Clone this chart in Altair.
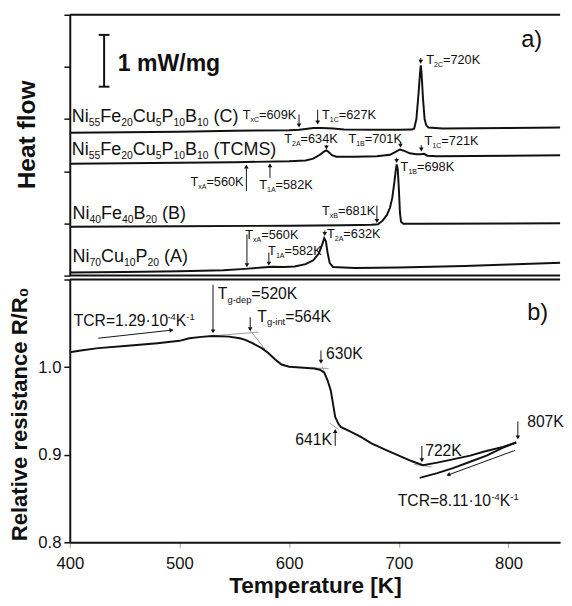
import math
import altair as alt
import pandas as pd

# ---------------- panel a) DSC heat-flow curves (mW/mg, stacked offsets) ----------------
T_C = [400, 450, 500, 550, 600, 609, 615, 622, 630, 640, 650, 680, 700, 712, 714, 716, 718, 719.2, 720,
       720.8, 722, 723.5, 725, 727, 740, 800, 850]
HF_C = [2.739, 2.748, 2.757, 2.776, 2.785, 2.794, 2.81, 2.83, 2.83, 2.82, 2.80, 2.794, 2.794, 2.80, 2.82,
        3.0, 3.5, 3.85, 4.03, 3.85, 3.4, 3.0, 2.88, 2.84, 2.82, 2.83, 2.84]

T_TCMS = [400, 450, 500, 550, 600, 615, 622, 628, 632, 634, 636, 639, 643, 660, 680, 692, 697, 701, 705,
          710, 716, 720, 723, 726, 735, 800, 850]
HF_TCMS = [2.145, 2.154, 2.164, 2.173, 2.193, 2.206, 2.243, 2.316, 2.38, 2.40, 2.37, 2.307, 2.28, 2.28,
           2.289, 2.316, 2.37, 2.417, 2.39, 2.344, 2.325, 2.325, 2.335, 2.298, 2.289, 2.298, 2.307]

T_B = [400, 500, 600, 650, 675, 681, 685, 689, 692, 694, 696, 697, 698, 699, 700, 701, 702, 704, 720, 850]
HF_B = [0.9375, 0.947, 0.956, 0.965, 0.974, 0.983, 1.048, 1.158, 1.305, 1.489, 1.80, 1.985, 2.132, 2.04,
        1.67, 1.21, 1.03, 0.993, 0.993, 1.002]

T_A = [400, 450, 500, 540, 560, 575, 585, 595, 605, 615, 622, 627, 630, 632, 633.5, 635, 637, 640, 660,
       700, 730, 760, 800, 850]
HF_A = [0.061, 0.068, 0.083, 0.101, 0.129, 0.156, 0.171, 0.165, 0.175, 0.22, 0.294, 0.423, 0.588, 0.717,
        0.662, 0.441, 0.239, 0.165, 0.147, 0.156, 0.17, 0.184, 0.211, 0.248]

# ---------------- panel b) relative resistance ----------------
T_HEAT = [400, 410, 426, 450, 480, 500, 509, 520, 530, 545, 555, 560, 567, 575, 581, 587, 593, 600, 610,
          623, 628, 632, 635, 638, 640, 642, 645, 647, 655, 665, 675, 688, 700, 712, 722, 735, 748, 765,
          778, 795, 807]
R_HEAT = [1.0169, 1.019, 1.0217, 1.024, 1.0273, 1.030, 1.0329, 1.0345, 1.0356, 1.0348, 1.033, 1.0311,
          1.027, 1.0217, 1.0161, 1.009, 1.003, 1.0005, 0.9995, 0.9985, 0.997, 0.9936, 0.985, 0.973, 0.958,
          0.943, 0.935, 0.9318, 0.927, 0.9206, 0.913, 0.9056, 0.899, 0.8925, 0.888, 0.891, 0.8944, 0.899,
          0.9037, 0.909, 0.914]
T_COOL = [807, 795, 780, 765, 750, 735, 719]
R_COOL = [0.914, 0.908, 0.899, 0.892, 0.885, 0.879, 0.8736]

X_TICKS = [400, 500, 600, 700, 800]
R_TICKS = [0.8, 0.9, 1.0, 1.1]
HF_TICKS = [0, 1, 2, 3, 4, 5]

# ---------------- layout / style ----------------
X_MIN, X_MAX = 400, 847
W, H1, H2 = 500, 266, 268
PXK = W / (X_MAX - X_MIN)
PXV1 = H1 / 5.0
PXV2 = H2 / 0.3
FONT = "Liberation Sans"
INK = "#111111"

CW = {' ': .278, '=': .584, 'K': .667, 'T': .611, 'x': .5, 'A': .667, 'B': .667, 'C': .722, 'N': .722,
      'i': .222, 'F': .611, 'e': .556, 'u': .556, 'P': .667, '(': .333, ')': .333, 'M': .833, 'S': .667,
      'g': .556, '-': .333, 'd': .556, 'p': .556, 'n': .556, 't': .278, '.': .278, '·': .278, 'R': .722,
      'c': .5, 'r': .333, 'm': .833, 'W': .944, '/': .278}


def tw(s, fs):
    return sum(CW.get(ch, 0.556) for ch in s) * fs


def rich(T0, v0, parts, fs, pxv, align="left", ratio=0.6):
    sizes = [fs if k == "n" else fs * ratio for _, k in parts]
    total = sum(tw(t, f) for (t, _), f in zip(parts, sizes))
    x = -total if align == "right" else 0.0
    rows = []
    for (txt, kind), f in zip(parts, sizes):
        dy = 0.0
        if kind == "s":
            dy = fs * 0.22
        elif kind == "p":
            dy = -fs * 0.38
        lead = len(txt) - len(txt.lstrip())
        xr = x + tw(txt[:lead], f)
        rows.append({"T": T0 + xr / PXK, "v": v0 - dy / pxv, "text": txt.strip(), "fs": f})
        x += tw(txt, f)
    return rows


def arrow(T1, v1, T2, v2, pxv, back=2.5):
    dxp = (T2 - T1) * PXK
    dyp = -(v2 - v1) * pxv
    L = math.hypot(dxp, dyp)
    ux, uy = dxp / L, dyp / L
    ang = (math.degrees(math.atan2(uy, ux)) - 270) % 360
    hx, hv = T2 - ux * back / PXK, v2 + uy * back / pxv
    return {"T": T1, "v": v1, "T2": hx, "v2": hv}, {"T": hx, "v": hv, "ang": ang}


def T_lab(sub, val):
    return [("T", "n"), (sub, "s"), ("=" + val, "n")]


def formula(pairs, tail):
    parts = []
    for el, num in pairs:
        parts.append((el, "n"))
        parts.append((num, "s"))
    parts.append((tail, "n"))
    return parts


# ---------------- panel a) tables ----------------
rows = []
for name, ts, vs in [("C", T_C, HF_C), ("TCMS", T_TCMS, HF_TCMS), ("B", T_B, HF_B), ("A", T_A, HF_A)]:
    for i, (t, v) in enumerate(zip(ts, vs)):
        rows.append({"T": t, "v": v, "series": name, "i": i})
df_top = pd.DataFrame(rows)

top_texts = []
FS_T = 13
R_T = 0.55
top_texts += rich(606.5, 3.0, T_lab("xC", "609K"), FS_T, PXV1, align="right", ratio=R_T)
top_texts += rich(630, 3.0, T_lab("1C", "627K"), FS_T, PXV1, ratio=R_T)
top_texts += rich(725, 4.06, T_lab("2C", "720K"), FS_T, PXV1, ratio=R_T)
top_texts += rich(595.5, 2.537, T_lab("2A", "634K"), FS_T, PXV1, ratio=R_T)
top_texts += rich(654, 2.537, T_lab("1B", "701K"), FS_T, PXV1, ratio=R_T)
top_texts += rich(723.5, 2.5, T_lab("1C", "721K"), FS_T, PXV1, ratio=R_T)
top_texts += rich(510, 1.71, T_lab("xA", "560K"), FS_T, PXV1, ratio=R_T)
top_texts += rich(572.7, 1.654, T_lab("1A", "582K"), FS_T, PXV1, ratio=R_T)
top_texts += rich(701.6, 2.0, T_lab("1B", "698K"), FS_T, PXV1, ratio=R_T)
top_texts += rich(630, 1.158, T_lab("xB", "681K"), FS_T, PXV1, ratio=R_T)
top_texts += rich(560, 0.70, T_lab("xA", "560K"), FS_T, PXV1, ratio=R_T)
top_texts += rich(580.8, 0.40, T_lab("1A", "582K"), FS_T, PXV1, ratio=R_T)
top_texts += rich(634.5, 0.717, T_lab("2A", "632K"), FS_T, PXV1, ratio=R_T)
FS_F = 18.3
R_F = 0.58
NI55 = [("Ni", "55"), ("Fe", "20"), ("Cu", "5"), ("P", "10"), ("B", "10")]
top_texts += rich(401.8, 2.94, formula(NI55, " (C)"), FS_F, PXV1, ratio=R_F)
top_texts += rich(401.8, 2.316, formula(NI55, " (TCMS)"), FS_F, PXV1, ratio=R_F)
top_texts += rich(402.5, 1.085, formula([("Ni", "40"), ("Fe", "40"), ("B", "20")], " (B)"), FS_F, PXV1, ratio=R_F)
top_texts += rich(402.5, 0.257, formula([("Ni", "70"), ("Cu", "10"), ("P", "20")], " (A)"), FS_F, PXV1, ratio=R_F)
top_texts.append({"T": 811.6, "v": 4.375, "text": "a)", "fs": 24})
df_top_text = pd.DataFrame(top_texts)

df_top_bold = pd.DataFrame([{"T": 443.8, "v": 3.93, "text": "1 mW/mg", "fs": 23.5}])

TOP_ARROWS = [(609, 3.088, 2.83), (626, 3.18, 2.886), (720, 4.17, 4.05), (634, 2.50, 2.41),
              (701.5, 2.555, 2.44), (720.5, 2.50, 2.37), (561, 1.618, 2.14), (582.5, 1.875, 2.16),
              (698, 2.26, 2.15), (680, 1.342, 1.0), (561.5, 0.79, 0.15), (581.5, 0.441, 0.18),
              (632.5, 0.864, 0.75)]
shafts, heads = [], []
for t, a, b in TOP_ARROWS:
    s, h = arrow(t, a, t, b, PXV1)
    shafts.append(s)
    heads.append(h)
df_top_shaft = pd.DataFrame(shafts)
df_top_head = pd.DataFrame(heads)

# scale bar 1 mW/mg
df_bar = pd.DataFrame([{"T": 431.3, "v": 3.621, "T2": 431.3, "v2": 4.614},
                       {"T": 426.4, "v": 3.621, "T2": 436.2, "v2": 3.621},
                       {"T": 426.4, "v": 4.614, "T2": 436.2, "v2": 4.614}])
df_top_border = pd.DataFrame([{"v": 0.0}, {"v": 5.0}])

# ---------------- panel b) tables ----------------
rows = []
for i, (t, r) in enumerate(zip(T_HEAT, R_HEAT)):
    rows.append({"T": t, "v": r, "branch": "heat", "i": i})
for i, (t, r) in enumerate(zip(T_COOL, R_COOL)):
    rows.append({"T": t, "v": r, "branch": "cool", "i": i})
df_bot = pd.DataFrame(rows)

FS_B = 16
bot_texts = []
bot_texts += rich(403.6, 1.047, [("TCR=1.29·10", "n"), ("-4", "p"), ("K", "n"), ("-1", "p")], FS_B, PXV2)
bot_texts += rich(535, 1.0775, [("T", "n"), ("g-dep", "s"), ("=520K", "n")], FS_B, PXV2)
bot_texts += rich(571, 1.0517, [("T", "n"), ("g-int", "s"), ("=564K", "n")], FS_B, PXV2)
bot_texts += rich(633.6, 1.009, [("630K", "n")], FS_B, PXV2)
bot_texts += rich(639, 0.911, [("641K", "n")], FS_B, PXV2, align="right")
bot_texts += rich(724, 0.898, [("722K", "n")], FS_B, PXV2)
bot_texts += rich(817, 0.9315, [("807K", "n")], FS_B, PXV2)
bot_texts += rich(699, 0.8416, [("TCR=8.11·10", "n"), ("-4", "p"), ("K", "n"), ("-1", "p")], FS_B, PXV2)
bot_texts.append({"T": 817, "v": 1.054, "text": "b)", "fs": 24})
df_bot_text = pd.DataFrame(bot_texts)

BOT_ARROWS = [(530.6, 1.094, 530.6, 1.038), (564.5, 1.057, 564.5, 1.0404), (629, 1.019, 629, 1.0034),
              (642, 0.910, 642, 0.930), (721, 0.910, 721, 0.891), (808.5, 0.938, 808.5, 0.917),
              (426, 1.033, 495, 1.0425), (806, 0.905, 743, 0.876)]
shafts, heads = [], []
for t1, a, t2, b in BOT_ARROWS:
    s, h = arrow(t1, a, t2, b, PXV2)
    shafts.append(s)
    heads.append(h)
df_bot_shaft = pd.DataFrame(shafts)
df_bot_head = pd.DataFrame(heads)

TANGENTS = [(530, 1.0356, 572, 1.0400), (565, 1.0410, 578, 1.0205), (620, 0.9990, 636, 0.9985),
            (630, 1.0010, 634, 0.9890), (637, 0.9360, 645, 0.9290), (714, 0.8890, 730, 0.8860)]
df_tan = pd.DataFrame([{"T": a, "v": b, "T2": c, "v2": d} for a, b, c, d in TANGENTS])
df_bot_border = pd.DataFrame([{"v": 1.1}])

# ---------------- encodings ----------------
xs = alt.Scale(domain=[X_MIN, X_MAX], nice=False, zero=False)
ys_top = alt.Scale(domain=[0, 5], nice=False, zero=False)
ys_bot = alt.Scale(domain=[0.8, 1.1], nice=False, zero=False)

top_yaxis = alt.Axis(values=HF_TICKS, labels=False, tickSize=6, tickWidth=1.5, tickColor=INK,
                     domainColor=INK, domainWidth=2, grid=False, title="Heat flow", titleFont=FONT,
                     titleFontSize=25, titleFontWeight="bold", titleColor=INK, titleAngle=270,
                     titleAlign="center", titleBaseline="alphabetic", titleX=-36, titleY=122)
bot_yaxis = alt.Axis(values=R_TICKS, format=".1f", labelExpr="datum.value > 1.05 ? '' : datum.label",
                     labelFont=FONT, labelFontSize=17, labelColor=INK, labelPadding=3, tickSize=6,
                     tickWidth=1.5, tickColor=INK, domainColor=INK, domainWidth=2, grid=False,
                     title="Relative resistance R/R₀", titleFont=FONT, titleFontSize=22.5,
                     titleFontWeight="bold", titleColor=INK, titleAngle=270, titleAlign="center",
                     titleBaseline="alphabetic", titleX=-44, titleY=137)
bot_xaxis = alt.Axis(values=X_TICKS, format="d", labelFont=FONT, labelFontSize=17, labelColor=INK,
                     labelPadding=9, labelFlush=False, tickSize=5, tickWidth=1, tickColor="#9a9a9a",
                     domainColor=INK, domainWidth=2, grid=False, title="Temperature [K]", titleFont=FONT,
                     titleFontSize=23, titleFontWeight="bold", titleColor=INK, titlePadding=3)


def XT():
    return alt.X("T:Q", scale=xs, axis=None)


def YT():
    return alt.Y("v:Q", scale=ys_top, axis=top_yaxis)


def XB():
    return alt.X("T:Q", scale=xs, axis=bot_xaxis)


def YB():
    return alt.Y("v:Q", scale=ys_bot, axis=bot_yaxis)


# ---------------- panel a) ----------------
top_lines = alt.Chart(df_top).mark_line(color=INK, strokeWidth=2, clip=True).encode(
    x=XT(), y=YT(), detail="series:N", order="i:Q")
top_border = alt.Chart(df_top_border).mark_rule(color=INK, strokeWidth=2).encode(y=YT())
top_shaft = alt.Chart(df_top_shaft).mark_rule(color=INK, strokeWidth=1).encode(
    x=XT(), x2="T2:Q", y=YT(), y2="v2:Q")
top_head = alt.Chart(df_top_head).mark_point(shape="triangle-up", filled=True, size=22, color=INK,
                                             opacity=1, strokeWidth=0).encode(
    x=XT(), y=YT(), angle=alt.Angle("ang:Q", scale=None))
top_bar = alt.Chart(df_bar).mark_rule(color=INK, strokeWidth=2).encode(x=XT(), x2="T2:Q", y=YT(), y2="v2:Q")
top_text = alt.Chart(df_top_text).mark_text(align="left", baseline="alphabetic", font=FONT, color=INK).encode(
    x=XT(), y=YT(), text="text:N", size=alt.Size("fs:Q", scale=None))
top_bold = alt.Chart(df_top_bold).mark_text(align="left", baseline="alphabetic", font=FONT, color=INK,
                                            fontWeight="bold").encode(
    x=XT(), y=YT(), text="text:N", size=alt.Size("fs:Q", scale=None))

top = alt.layer(top_lines, top_border, top_shaft, top_head, top_bar, top_text, top_bold).properties(
    width=W, height=H1)

# ---------------- panel b) ----------------
bot_lines = alt.Chart(df_bot).mark_line(color=INK, strokeWidth=2, clip=True).encode(
    x=XB(), y=YB(), detail="branch:N", order="i:Q")
bot_border = alt.Chart(df_bot_border).mark_rule(color=INK, strokeWidth=2).encode(y=YB())
bot_tan = alt.Chart(df_tan).mark_rule(color="#9a9a9a", strokeWidth=1).encode(x=XB(), x2="T2:Q", y=YB(), y2="v2:Q")
bot_shaft = alt.Chart(df_bot_shaft).mark_rule(color=INK, strokeWidth=1).encode(
    x=XB(), x2="T2:Q", y=YB(), y2="v2:Q")
bot_head = alt.Chart(df_bot_head).mark_point(shape="triangle-up", filled=True, size=22, color=INK,
                                             opacity=1, strokeWidth=0).encode(
    x=XB(), y=YB(), angle=alt.Angle("ang:Q", scale=None))
bot_text = alt.Chart(df_bot_text).mark_text(align="left", baseline="alphabetic", font=FONT, color=INK).encode(
    x=XB(), y=YB(), text="text:N", size=alt.Size("fs:Q", scale=None))

bottom = alt.layer(bot_tan, bot_lines, bot_border, bot_shaft, bot_head, bot_text).properties(
    width=W, height=H2)

chart = alt.vconcat(top, bottom, spacing=2).resolve_scale(x="independent", y="independent").properties(
    padding={"left": 0, "top": 0, "right": 0, "bottom": 0}, background="white"
).configure_view(stroke=None)

chart.save("out.html", embed_options={"renderer": "svg", "actions": False})
